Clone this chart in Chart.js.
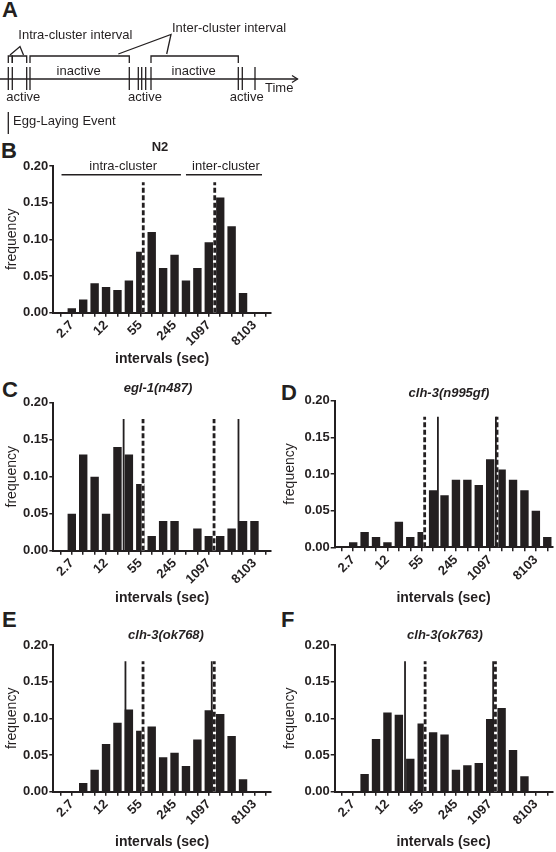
<!DOCTYPE html>
<html><head><meta charset="utf-8">
<script src="https://cdn.jsdelivr.net/npm/chart.js@4.4.1/dist/chart.umd.min.js"></script>
<style>
html,body{margin:0;padding:0;background:#fff;}
#fig{position:relative;width:556px;height:852px;overflow:hidden;background:#fff;}
canvas{position:absolute;}
.lab{position:absolute;font-family:'Liberation Sans',Arial,Helvetica,sans-serif;font-weight:bold;font-size:22px;line-height:22px;color:#231f20;}
</style></head><body>
<div id="fig">
  <div class="lab" style="left:2px;top:-1px">A</div>
  <div class="lab" style="left:1px;top:140px">B</div>
  <div class="lab" style="left:2px;top:379px">C</div>
  <div class="lab" style="left:281px;top:382px">D</div>
  <div class="lab" style="left:2px;top:609px">E</div>
  <div class="lab" style="left:281px;top:609px">F</div>
</div>
<script>
// ---------------- data ----------------
// Panel A schematic: egg-laying event times (arbitrary time units)
const eventTimes = [8.3, 12.3, 26.7, 30.0, 129.3, 138.3, 141.7, 145.7, 151.0, 238.3, 242.3, 255.0];
const intraPairs = [[0, 1], [1, 2]];          // intra-cluster intervals (event index pairs)
const interPairs = [[3, 4], [8, 9]];          // inter-cluster intervals
const clusterLabels = ['active', 'active', 'active'];
const gapLabels = ['inactive', 'inactive'];

// Histograms: bin centres in ln(seconds)
const binLn = [0.5, 1.0, 1.5, 2.0, 2.5, 3.0, 3.5, 4.0, 4.5, 5.0, 5.5, 6.0, 6.5, 7.0, 7.5, 8.0, 8.5, 9.0, 9.5];
const tickLn = [0.5, 1.0, 1.5, 2.0, 2.5, 3.0, 3.5, 4.0, 4.5, 5.0, 5.5, 6.0, 6.5, 7.0, 7.5, 8.0, 8.5, 9.0, 9.5];
const tickLabelLn = [1, 2.5, 4, 5.5, 7, 9];
const tickLabels = ['2.7', '12', '55', '245', '1097', '8103'];
const yTicks = [0, 0.05, 0.10, 0.15, 0.20];

const freqN2    = [0, 0.006, 0.018, 0.040, 0.035, 0.031, 0.044, 0.083, 0.110, 0.061, 0.079, 0.044, 0.061, 0.096, 0.157, 0.118, 0.027, 0, 0];
const freqEgl1  = [0, 0.050, 0.130, 0.100, 0.050, 0.140, 0.130, 0.090, 0.020, 0.040, 0.040, 0, 0.030, 0.020, 0.020, 0.030, 0.040, 0.040, 0];
const freqN995  = [0, 0.007, 0.021, 0.014, 0.007, 0.035, 0.014, 0.021, 0.078, 0.071, 0.092, 0.092, 0.085, 0.120, 0.106, 0.092, 0.078, 0.050, 0.014];
const freqOk768 = [0, 0, 0.012, 0.030, 0.065, 0.094, 0.112, 0.083, 0.089, 0.047, 0.053, 0.035, 0.071, 0.111, 0.106, 0.076, 0.017, 0, 0];
const freqOk763 = [0, 0, 0.024, 0.072, 0.108, 0.105, 0.045, 0.093, 0.081, 0.078, 0.030, 0.036, 0.039, 0.099, 0.114, 0.057, 0.021, 0, 0];

// vertical markers, ln(seconds)
const dashN2 = [4.13, 7.26];
const dashEgl1 = [4.12, 7.23],  solidEgl1 = [3.27, 8.30];
const dashN995 = [4.13, 7.30],  solidN995 = [4.71, 7.25];
const dashOk768 = [4.12, 7.24], solidOk768 = [3.35, 7.13];
const dashOk763 = [4.15, 7.23], solidOk763 = [3.27, 7.13];
const markerTop = 0.178;

// N2 group annotation
const n2Groups = ['intra-cluster', 'inter-cluster'];
const n2GroupRanges = [[0.55, 5.78], [6.0, 9.33]];
const n2GroupLevel = 0.188;
const n2GroupTextLevel = 0.200;

// ---------------- drawing ----------------
const INK = '#231f20';
const FONT = "'Liberation Sans', Arial, Helvetica, sans-serif";
Chart.defaults.font.family = FONT;
Chart.defaults.color = INK;
const fig = document.getElementById('fig');

function addCanvas(left, top, w, h) {
  const c = document.createElement('canvas');
  c.width = w; c.height = h;
  c.style.left = left + 'px'; c.style.top = top + 'px';
  c.style.width = w + 'px'; c.style.height = h + 'px';
  fig.appendChild(c);
  return c;
}

// ---- Panel A ----
(function () {
  const cv = addCanvas(0, 0, 300, 140);
  const yEvTop = 67, yEvBot = 90, yAxis = 79, yBr = 56, yBrDrop = 63;
  const seg = (pts) => ({
    data: pts.map(p => ({x: p[0], y: p[1]})), showLine: true, borderColor: INK,
    borderWidth: 1.3, pointRadius: 0, fill: false, tension: 0, borderCapStyle: 'butt'
  });
  const ds = [];
  ds.push(seg([[0, yAxis], [297.5, yAxis]]));
  ds.push(seg([[292, 75.5], [297.5, 79], [292, 82.5]]));
  eventTimes.forEach(t => ds.push(seg([[t, yEvTop], [t, yEvBot]])));
  intraPairs.concat(interPairs).forEach(([a, b]) => {
    const ta = eventTimes[a], tb = eventTimes[b];
    ds.push(seg([[ta, yBrDrop], [ta, yBr], [tb, yBr], [tb, yBrDrop]]));
  });
  ds.push(seg([[10, 55], [20, 46.5], [23.5, 55]]));
  ds.push(seg([[118.3, 54], [171, 34.5], [166.7, 54]]));
  ds.push(seg([[8.3, 112], [8.3, 134]]));

  const txt = {
    id: 'schematicText',
    afterDatasetsDraw(chart) {
      const {ctx} = chart; const x = chart.scales.x, y = chart.scales.y;
      const put = (s, t, v, align) => { ctx.textAlign = align; ctx.fillText(s, x.getPixelForValue(t), y.getPixelForValue(v)); };
      ctx.save();
      ctx.fillStyle = INK; ctx.font = '13px ' + FONT; ctx.textBaseline = 'middle';
      put('Intra-cluster interval', 18.3, 35.5, 'left');
      put('Inter-cluster interval', 172, 28, 'left');
      interPairs.forEach(([a, b], i) => put(gapLabels[i], (eventTimes[a] + eventTimes[b]) / 2 - 1, 71, 'center'));
      const activeX = [23.3, 145, 246.7];
      clusterLabels.forEach((s, i) => put(s, activeX[i], 97.5, 'center'));
      put('Time', 265, 88, 'left');
      put('Egg-Laying Event', 13, 121, 'left');
      ctx.restore();
    }
  };
  new Chart(cv, {
    type: 'scatter',
    data: {datasets: ds},
    options: {
      responsive: false, animation: false, devicePixelRatio: 1, events: [],
      layout: {padding: 0},
      plugins: {legend: {display: false}, tooltip: {enabled: false}},
      scales: {
        x: {type: 'linear', min: 0, max: 300, display: false},
        y: {type: 'linear', min: 0, max: 140, reverse: true, display: false}
      }
    },
    plugins: [txt]
  });
})();

// ---- Histogram panels ----
const X_MIN = 0.19, X_MAX = 9.72;
function histPanel(g, title, italic, freq, dashed, solid, groups) {
  const cy = Math.round(g.titleY - 10);
  const ch = Math.ceil(g.xTitleY + 9.4 - cy);
  const cv = addCanvas(g.cx, cy, g.cw, ch);
  const mk = (v, color, w, dash, order) => ({
    type: 'line', data: [{x: v, y: 0}, {x: v, y: markerTop}], borderColor: color, borderWidth: w,
    borderDash: dash || [], borderCapStyle: 'butt', pointRadius: 0, fill: false, tension: 0, order
  });
  const datasets = [{
    type: 'bar', data: binLn.map((x, i) => ({x, y: freq[i]})), backgroundColor: INK,
    borderWidth: 0, barPercentage: 0.92, categoryPercentage: 0.8, order: 10
  }];
  dashed.forEach(v => { datasets.push(mk(v, '#ffffff', 2.8, null, 6)); datasets.push(mk(v, INK, 2.8, [5, 2.5], 4)); });
  (solid || []).forEach(v => datasets.push(mk(v, INK, 1.8, null, 2)));

  const textPlugin = {
    id: 'panelText',
    afterDraw(chart) {
      const ctx = chart.ctx; ctx.save();
      ctx.fillStyle = INK; ctx.strokeStyle = INK; ctx.textAlign = 'center'; ctx.textBaseline = 'middle';
      ctx.font = (italic ? 'italic ' : '') + 'bold 13px ' + FONT;
      ctx.fillText(title, g.titleX - g.cx, g.titleY - cy);
      if (groups) {
        const xs = chart.scales.x, ys = chart.scales.y;
        ctx.font = '13px ' + FONT; ctx.lineWidth = 1.5;
        groups.labels.forEach((lab, i) => {
          const [a, b] = groups.ranges[i];
          const xa = xs.getPixelForValue(a), xb = xs.getPixelForValue(b), yl = ys.getPixelForValue(groups.level);
          ctx.beginPath(); ctx.moveTo(xa, yl); ctx.lineTo(xb, yl); ctx.stroke();
          ctx.fillText(lab, (xa + xb) / 2 + 2, ys.getPixelForValue(groups.textLevel));
        });
      }
      ctx.restore();
    }
  };

  new Chart(cv, {
    type: 'bar',
    data: {datasets},
    options: {
      responsive: false, animation: false, devicePixelRatio: 1, events: [],
      layout: {padding: {left: 0, top: g.chartTop - cy, right: g.cx + g.cw - g.chartRight, bottom: 0}},
      plugins: {legend: {display: false}, tooltip: {enabled: false}, title: {display: false}},
      scales: {
        x: {
          type: 'linear', min: X_MIN, max: X_MAX, offset: false,
          afterBuildTicks: s => { s.ticks = tickLn.map(v => ({value: v})); },
          afterFit: s => { s.height = cy + ch - g.chartBottom; s.paddingLeft = 0; s.paddingRight = 0; },
          ticks: {
            autoSkip: false, maxRotation: 45, minRotation: 45, padding: 1, color: INK,
            font: {family: FONT, size: 13, weight: 'bold'},
            callback: v => { const k = tickLabelLn.indexOf(v); return k >= 0 ? tickLabels[k] : ''; }
          },
          grid: {display: true, drawOnChartArea: false, drawTicks: true, tickLength: 4, color: INK, lineWidth: 1.5, offset: false},
          border: {display: true, color: INK, width: 2},
          title: {
            display: true, text: 'intervals (sec)', color: INK,
            font: {family: FONT, size: 14, weight: 'bold', lineHeight: 1.2},
            padding: {top: 0, bottom: cy + ch - g.xTitleY - 8.4}
          }
        },
        y: {
          type: 'linear', min: 0, max: 0.2,
          afterBuildTicks: s => { s.ticks = yTicks.map(v => ({value: v})); },
          afterFit: s => { s.width = g.chartLeft - g.cx; s.paddingTop = 0; s.paddingBottom = 0; },
          ticks: {padding: 1, color: INK, font: {family: FONT, size: 13, weight: 'bold'}, callback: v => v.toFixed(2)},
          grid: {display: true, drawOnChartArea: false, drawTicks: true, tickLength: 4, color: INK, lineWidth: 1.5},
          border: {display: true, color: INK, width: 2},
          title: {
            display: true, text: 'frequency', color: INK,
            font: {family: FONT, size: 14, weight: 'normal', lineHeight: 1.2},
            padding: {top: 3.6, bottom: 0}
          }
        }
      }
    },
    plugins: [textPlugin]
  });
}

const L = {cx: 0, cw: 280, chartLeft: 53.3, chartRight: 270.9};
const R = {cx: 278, cw: 278, chartLeft: 334.7, chartRight: 552.3};

histPanel(Object.assign({}, L, {chartTop: 166, chartBottom: 312.7, titleX: 160, titleY: 147, xTitleY: 359}),
  'N2', false, freqN2, dashN2, [], {labels: n2Groups, ranges: n2GroupRanges, level: n2GroupLevel, textLevel: n2GroupTextLevel});
histPanel(Object.assign({}, L, {chartTop: 402.7, chartBottom: 550.7, titleX: 158, titleY: 388.3, xTitleY: 598}),
  'egl-1(n487)', true, freqEgl1, dashEgl1, solidEgl1);
histPanel(Object.assign({}, R, {chartTop: 400.7, chartBottom: 547.3, titleX: 449, titleY: 393.3, xTitleY: 598}),
  'clh-3(n995gf)', true, freqN995, dashN995, solidN995);
histPanel(Object.assign({}, L, {chartTop: 645, chartBottom: 791.7, titleX: 166, titleY: 635, xTitleY: 841.7}),
  'clh-3(ok768)', true, freqOk768, dashOk768, solidOk768);
histPanel(Object.assign({}, R, {chartTop: 645, chartBottom: 791.7, titleX: 445, titleY: 635, xTitleY: 841.7}),
  'clh-3(ok763)', true, freqOk763, dashOk763, solidOk763);
</script>
</body></html>
